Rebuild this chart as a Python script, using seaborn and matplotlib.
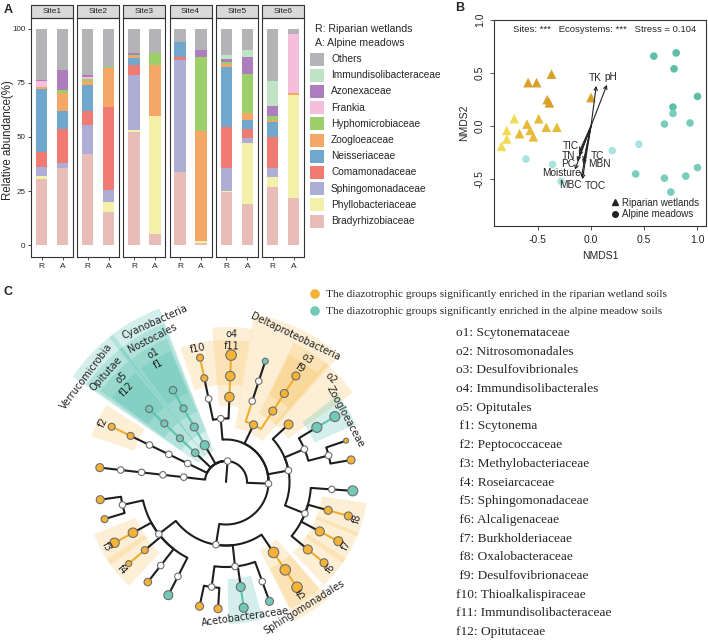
import numpy as np
import pandas as pd
import matplotlib
matplotlib.use("Agg")
import matplotlib.pyplot as plt
from matplotlib.patches import Rectangle, Wedge
from matplotlib.lines import Line2D
import seaborn as sns

sns.set_theme(style="ticks")
plt.rcParams["font.family"] = ["Liberation Sans", "DejaVu Sans"]
plt.rcParams["axes.unicode_minus"] = False

FIG_W, FIG_H = 708, 644

# ---------------- A: relative abundance ----------------
sites = ["Site1", "Site2", "Site3", "Site4", "Site5", "Site6"]
ecosystems = ["R", "A"]
families = ["Bradyrhizobiaceae", "Phyllobacteriaceae", "Sphingomonadaceae", "Comamonadaceae",
            "Neisseriaceae", "Zoogloeaceae", "Hyphomicrobiaceae", "Frankia", "Azonexaceae",
            "Immundisolibacteraceae", "Others"]
family_colors = ["#E8BDB8", "#F3F1A9", "#AEADD6", "#F07B72", "#70A7CD", "#F5A866",
                 "#9CCE6A", "#F5BEDC", "#AD7DBE", "#C0E3C5", "#B4B4B7"]

# samples: Site1 R, Site1 A, Site2 R, Site2 A, ... Site6 A
bradyrhizobiaceae = [30.6, 35.5, 42.2, 15.3, 52.2, 5.1, 33.8, 1.2, 24.4, 18.9, 27.0, 21.6]
phyllobacteriaceae = [1.4, 0.0, 0.0, 4.6, 0.8, 54.4, 0.0, 0.8, 0.5, 28.5, 4.7, 48.0]
sphingomonadaceae = [4.0, 2.4, 13.4, 5.6, 25.8, 0.0, 52.0, 0.0, 10.8, 2.2, 3.8, 0.0]
comamonadaceae = [7.1, 16.0, 6.2, 38.3, 4.4, 0.0, 1.2, 0.0, 18.9, 4.3, 14.7, 0.0]
neisseriaceae = [29.1, 8.0, 12.4, 0.0, 3.5, 0.0, 7.0, 0.0, 27.9, 3.8, 6.5, 0.0]
zoogloeaceae = [0.8, 8.2, 1.5, 18.0, 0.9, 24.0, 0.0, 50.7, 1.4, 3.4, 1.0, 0.7]
hyphomicrobiaceae = [0.3, 1.5, 1.3, 0.5, 0.5, 5.1, 0.0, 34.3, 0.6, 17.9, 2.1, 0.0]
frankia = [2.4, 0.0, 0.7, 0.0, 0.0, 0.0, 0.0, 0.0, 0.0, 0.0, 0.0, 27.4]
azonexaceae = [0.7, 9.5, 0.8, 0.0, 0.9, 0.0, 0.0, 3.1, 1.4, 7.9, 4.3, 0.0]
immundisolibacteraceae = [0.0, 0.0, 0.0, 0.0, 0.0, 0.0, 0.0, 0.0, 2.2, 3.1, 11.6, 0.0]
others = [23.6, 18.9, 21.5, 17.7, 11.0, 11.4, 6.0, 9.9, 11.9, 10.0, 24.3, 2.3]

# ---------------- B: NMDS ----------------
riparian_x = [-0.37, -0.59, -0.51, -0.41, -0.39, 0.00, -0.72, -0.49, -0.60, -0.42, -0.32,
              -0.79, -0.57, -0.67, -0.54, -0.79, -0.84]
riparian_y = [0.49, 0.41, 0.41, 0.25, 0.22, 0.27, 0.07, 0.07, 0.02, -0.01, -0.01,
              -0.04, -0.04, -0.07, -0.10, -0.12, -0.19]
riparian_group = ["dark", "dark", "dark", "dark", "dark", "dark", "light", "mid", "mid", "mid", "mid",
                  "light", "mid", "mid", "mid", "light", "light"]
meadow_x = [0.59, 0.80, 0.78, 1.00, 0.77, 0.77, 0.69, 0.93, 0.45, 0.20, -0.61, -0.36, -0.28,
            0.42, 0.69, 0.89, 1.00, 0.75]
meadow_y = [0.66, 0.69, 0.54, 0.28, 0.18, 0.12, 0.02, 0.03, -0.17, -0.23, -0.31, -0.36, -0.52,
            -0.45, -0.49, -0.47, -0.39, -0.62]
meadow_group = ["dark", "dark", "dark", "dark", "dark", "mid", "mid", "mid", "light", "light", "light",
                "light", "light", "mid", "mid", "mid", "mid", "mid"]
env_names = ["TK", "pH", "TIC", "TN", "PC", "Moisture", "MBC", "TOC", "TC", "MBN"]
env_x = [0.05, 0.15, -0.11, -0.11, -0.13, -0.15, -0.09, -0.08, -0.07, -0.07]
env_y = [0.38, 0.39, -0.24, -0.28, -0.33, -0.41, -0.48, -0.50, -0.33, -0.36]
env_label_x = [0.04, 0.19, -0.19, -0.21, -0.21, -0.28, -0.19, 0.04, 0.06, 0.08]
env_label_y = [0.45, 0.46, -0.19, -0.28, -0.36, -0.44, -0.55, -0.56, -0.28, -0.36]

# ---------------- C: cladogram ----------------
tree_nodes = ["root",
              "p1", "c1", "r1", "fx1", "g1",
              "p2", "c2", "r2", "fam_f2", "g2",
              "verru", "opitutae", "ord_o5", "fam_f12",
              "cyano", "nostoc", "ord_o1", "fam_f1",
              "proteo",
              "gamma", "g_ord1", "fam_f10", "g_gen1", "ord_o4", "fam_f11", "g_gen2",
              "delta", "ord_o3", "fam_f9", "d_gen1", "d_ord2", "d_fam2", "d_gen2",
              "beta", "ord_o2", "b_ord2", "zoogl", "b_gen1", "b_fam2", "b_gen2", "b_gen3",
              "b_ord3", "b_fam3", "b_gen4", "fam_f8", "b_gen5", "fam_f7", "b_gen6", "fam_f6", "b_gen7",
              "alpha", "sphingo", "fam_f5", "a_gen1",
              "a_ord2", "acetob", "a_gen2", "a_fam3", "a_gen3", "a_fam4", "a_gen4", "a_gen5",
              "a_ord3", "a_fam5", "a_gen6", "a_gen7", "fam_f3", "a_gen8", "fam_f4", "a_gen9",
              "a_fam8", "a_gen10", "a_fam9", "a_gen11"]
tree_parents = [None,
                "root", "p1", "c1", "r1", "fx1",
                "root", "p2", "c2", "r2", "fam_f2",
                "root", "verru", "opitutae", "ord_o5",
                "root", "cyano", "nostoc", "ord_o1",
                "root",
                "proteo", "gamma", "g_ord1", "fam_f10", "gamma", "ord_o4", "fam_f11",
                "proteo", "delta", "ord_o3", "fam_f9", "delta", "d_ord2", "d_fam2",
                "proteo", "beta", "beta", "b_ord2", "zoogl", "b_ord2", "b_fam2", "b_fam2",
                "beta", "b_ord3", "b_fam3", "b_ord3", "fam_f8", "b_ord3", "fam_f7", "b_ord3", "fam_f6",
                "proteo", "alpha", "sphingo", "fam_f5",
                "alpha", "a_ord2", "acetob", "a_ord2", "a_fam3", "a_ord2", "a_fam4", "a_fam4",
                "alpha", "a_ord3", "a_fam5", "a_fam5", "a_ord3", "fam_f3", "a_ord3", "fam_f4",
                "a_ord3", "a_fam8", "a_ord3", "a_fam9"]
tree_levels = [1,
               2, 3, 4, 5, 6,
               2, 3, 4, 5, 6,
               2, 3, 4, 5,
               2, 3, 4, 5,
               2,
               3, 4, 5, 6, 4, 5, 6,
               3, 4, 5, 6, 4, 5, 6,
               3, 4, 4, 5, 6, 5, 6, 6,
               4, 5, 6, 5, 6, 5, 6, 5, 6,
               3, 4, 5, 6,
               4, 5, 6, 5, 6, 5, 6, 6,
               4, 5, 6, 6, 5, 6, 5, 6,
               5, 6, 5, 6]
# angle (deg) of terminal nodes, None for inner nodes
tree_leaf_angles = [None,
                    None, None, None, None, 173.5,
                    None, None, None, None, 154.2,
                    None, None, None, 136.5,
                    None, None, None, 120.0,
                    None,
                    None, None, None, 101.8, None, None, 87.7,
                    None, None, None, 56.6, None, None, 72.0,
                    None, 42.6, None, None, 31.0, None, 19.0, 10.0,
                    None, None, -4.0, None, -15.5, None, -27.8, None, -39.5,
                    None, None, None, -56.0,
                    None, None, -82.0, None, -70.0, None, -93.6, -102.0,
                    None, None, -163.0, -172.0, None, -151.4, None, -140.0,
                    None, -128.0, None, -117.0]
# n: not significant, R: riparian wetland enriched, A: alpine meadow enriched
tree_status = ["n",
               "n", "n", "n", "n", "R",
               "n", "n", "n", "R", "R",
               "A", "A", "A", "A",
               "A", "A", "A", "A",
               "n",
               "n", "n", "R", "R", "R", "R", "R",
               "R", "R", "R", "R", "n", "n", "A",
               "n", "R", "n", "A", "A", "n", "R", "R",
               "n", "n", "A", "R", "R", "R", "R", "R", "R",
               "n", "R", "R", "R",
               "n", "A", "A", "n", "A", "n", "R", "R",
               "n", "n", "R", "R", "R", "R", "R", "R",
               "n", "R", "n", "A"]
tree_sizes = [6.5,
              6.5, 6.5, 6.5, 6.5, 8,
              6.5, 6.5, 6.5, 7, 7,
              7.5, 7, 7, 7,
              9, 8, 7, 7.5,
              6.5,
              6.5, 6.5, 7, 7, 9.5, 9.5, 10.5,
              8, 8, 8, 8, 6.5, 6.5, 6,
              6.5, 9, 6.5, 10, 10, 6.5, 5, 8,
              6.5, 6.5, 10, 8, 8, 9, 9, 9, 8,
              6.5, 10.5, 10.5, 10.5,
              6.5, 9, 9, 6.5, 8, 6.5, 8, 8,
              6.5, 6.5, 7, 8, 9.5, 9.5, 7, 6,
              6.5, 7.5, 6.5, 9]
highlight_nodes = ["verru", "opitutae", "ord_o5", "fam_f12", "cyano", "nostoc", "ord_o1", "fam_f1",
                   "fam_f2", "fam_f10", "ord_o4", "fam_f11", "delta", "ord_o3", "fam_f9", "ord_o2",
                   "zoogl", "fam_f8", "fam_f7", "fam_f6", "sphingo", "fam_f5", "acetob",
                   "fam_f3", "fam_f4"]
highlight_labels = ["Verrucomicrobia", "Opitutae", "o5", "f12", "Cyanobacteria", "Nostocales", "o1", "f1",
                    "f2", "f10", "o4", "f11", "Deltaproteobacteria", "o3", "f9", "o2",
                    "Zoogloeaceae", "f8", "f7", "f6", "Sphingomonadales", "f5", "Acetobacteraceae",
                    "f3", "f4"]
# label angle, relative to the clade angle (deg)
highlight_label_shift = [6.5, 1.5, -1.5, 0.5, -6.0, -3.0, -0.5, -0.3,
                         0, 0, 0, 0, 0, 0, 0, 2.0,
                         -2.5, 0, 0, 0, -2.0, 0, 0,
                         0, 0]
legend_texts = ["The diazotrophic groups significantly enriched in the riparian wetland soils",
                "The diazotrophic groups significantly enriched in the alpine meadow soils"]
clade_codes = ["o1", "o2", "o3", "o4", "o5", " f1", " f2", " f3", " f4", " f5", " f6", " f7", " f8",
               " f9", "f10", "f11", "f12"]
clade_names = ["Scytonemataceae", "Nitrosomonadales", "Desulfovibrionales", "Immundisolibacterales",
               "Opitutales", "Scytonema", "Peptococcaceae", "Methylobacteriaceae", "Roseiarcaceae",
               "Sphingomonadaceae", "Alcaligenaceae", "Burkholderiaceae", "Oxalobacteraceae",
               "Desulfovibrionaceae", "Thioalkalispiraceae", "Immundisolibacteraceae", "Opitutaceae"]

ORANGE, TEAL = "#F5B335", "#72C9B8"
status_color = {"n": "white", "R": ORANGE, "A": TEAL}


def fy(y):
    return FIG_H - y


fig = plt.figure(figsize=(FIG_W / 100, FIG_H / 100), dpi=100)
axc = fig.add_axes([0, 0, 1, 1])
axc.set_xlim(0, FIG_W)
axc.set_ylim(0, FIG_H)
axc.axis("off")


def px_axes(x0, y0, w, h):
    return fig.add_axes([x0 / FIG_W, 1 - (y0 + h) / FIG_H, w / FIG_W, h / FIG_H])


# ---- panel A ----
family_values = [bradyrhizobiaceae, phyllobacteriaceae, sphingomonadaceae, comamonadaceae,
                 neisseriaceae, zoogloeaceae, hyphomicrobiaceae, frankia, azonexaceae,
                 immundisolibacteraceae, others]
samples = [(s, e) for s in sites for e in ecosystems]
rows = []
for k, (fam, vals) in enumerate(zip(families, family_values)):
    for (s, e), v in zip(samples, vals):
        rows.append({"site": s, "ecosystem": e, "family": fam, "rank": k, "value": v})
df_a = pd.DataFrame(rows).sort_values(["site", "ecosystem", "rank"])
df_a["top"] = df_a.groupby(["site", "ecosystem"])["value"].cumsum()

for i, site in enumerate(sites):
    ax = px_axes(31 + i * 46.2, 18, 42, 239)
    sub = df_a[df_a.site == site]
    for fam, col in reversed(list(zip(families, family_colors))):
        d = sub[sub.family == fam]
        sns.barplot(data=d, x="ecosystem", y="top", order=ecosystems, color=col, saturation=1,
                    width=0.54, errorbar=None, linewidth=0, ax=ax)
    ax.set_xlim(-0.5, 1.5)
    ax.set_ylim(-5.5, 105)
    ax.set_xlabel("")
    ax.set_ylabel("")
    for sp in ax.spines.values():
        sp.set_visible(True)
        sp.set_color("#333333")
        sp.set_linewidth(0.8)
    ax.tick_params(axis="x", length=2.5, width=0.6, labelsize=6, pad=1.5, color="#333333")
    if i == 0:
        ax.set_yticks([0, 25, 50, 75, 100])
        ax.tick_params(axis="y", length=2.5, width=0.6, labelsize=5.8, pad=1.5, color="#333333")
    else:
        ax.set_yticks([])
    ax.add_patch(Rectangle((0, 1), 1, 13 / 239, transform=ax.transAxes, clip_on=False,
                           facecolor="#D9D9D9", edgecolor="#333333", lw=0.8))
    ax.text(0.5, 1 + 6.5 / 239, site, transform=ax.transAxes, ha="center", va="center", fontsize=6)

axc.text(8.5, fy(140), "Relative abundance(%)", rotation=90, fontsize=8.3, ha="center", va="center")
axc.text(315, fy(29), "R: Riparian wetlands", fontsize=7.6, va="center")
axc.text(315, fy(43), "A: Alpine meadows", fontsize=7.6, va="center")
for j, (fam, col) in enumerate(zip(families[::-1], family_colors[::-1])):
    yc = 59 + j * 16.2
    axc.add_patch(Rectangle((310, fy(yc + 6.5)), 14, 13, facecolor=col, edgecolor="none"))
    axc.text(331, fy(yc), fam, fontsize=7.3, va="center")

# ---- panel B ----
axb = px_axes(494, 20, 212, 206)
df_rip = pd.DataFrame({"NMDS1": riparian_x, "NMDS2": riparian_y, "group": riparian_group})
df_mea = pd.DataFrame({"NMDS1": meadow_x, "NMDS2": meadow_y, "group": meadow_group})
sns.scatterplot(data=df_rip, x="NMDS1", y="NMDS2", hue="group", marker="^", s=48, linewidth=0,
                palette={"dark": "#D9A02A", "mid": "#E6BA3A", "light": "#EFDB55"}, legend=False, ax=axb)
sns.scatterplot(data=df_mea, x="NMDS1", y="NMDS2", hue="group", marker="o", s=30, linewidth=0,
                palette={"dark": "#5CBFA6", "mid": "#7ACDBA", "light": "#A9E3DF"}, legend=False, ax=axb)
for name, tx, ty, lx, ly in zip(env_names, env_x, env_y, env_label_x, env_label_y):
    axb.annotate("", xy=(tx, ty), xytext=(0, 0),
                 arrowprops=dict(arrowstyle="->", lw=0.8, color="#222222", shrinkA=0, shrinkB=0,
                                 mutation_scale=6))
    axb.text(lx, ly, name, fontsize=7.3, ha="center", va="center")
axb.text(-0.73, 0.91, "Sites: ***   Ecosystems: ***   Stress = 0.104", fontsize=6.8, va="center")
axb.set_xlim(-0.91, 1.08)
axb.set_ylim(-0.94, 1.0)
axb.set_xticks([-0.5, 0.0, 0.5, 1.0])
axb.set_yticks([-0.5, 0.0, 0.5, 1.0])
axb.tick_params(axis="both", length=3, width=0.6, labelsize=7.5, color="#333333")
axb.tick_params(axis="y", labelrotation=90)
for lab in axb.get_yticklabels():
    lab.set_va("center")
axb.set_xlabel("NMDS1", fontsize=7.5, labelpad=4)
axb.set_ylabel("NMDS2", fontsize=7.5, labelpad=4)
for sp in axb.spines.values():
    sp.set_visible(True)
    sp.set_color("#333333")
    sp.set_linewidth(0.8)
handles = [Line2D([], [], marker="^", color="#222222", ls="none", markersize=5),
           Line2D([], [], marker="o", color="#222222", ls="none", markersize=4)]
axb.legend(handles, ["Riparian wetlands", "Alpine meadows"], loc="lower right", frameon=False,
           fontsize=7, handletextpad=0.2, labelspacing=0.15, borderaxespad=0.3, handlelength=1)

# ---- panel C ----
CX, CY = 226, fy(482)
level_radius = [0, 21, 42.5, 63.5, 85, 106, 127]
hl_outer = {2: 186, 3: 170, 4: 155, 5: 142}
hl_label_r = {2: 175, 3: 161, 4: 148, 5: 136}
hl_half = {2: 9, 3: 8.5, 4: 7.5, 5: 7}

parent_of = dict(zip(tree_nodes, tree_parents))
level_of = dict(zip(tree_nodes, tree_levels))
status_of = dict(zip(tree_nodes, tree_status))
children = {n: [] for n in tree_nodes}
for n, p in zip(tree_nodes, tree_parents):
    if p is not None:
        children[p].append(n)
angle_of = {}
span_of = {}


def place(n):
    leaf_a = tree_leaf_angles[tree_nodes.index(n)]
    if leaf_a is not None:
        angle_of[n] = leaf_a
        span_of[n] = (leaf_a, leaf_a)
        return
    for c in children[n]:
        place(c)
    ca = [angle_of[c] for c in children[n]]
    angle_of[n] = (max(ca) + min(ca)) / 2
    span_of[n] = (min(span_of[c][0] for c in children[n]), max(span_of[c][1] for c in children[n]))


place("root")


def polar(r, a):
    t = np.deg2rad(a)
    return CX + r * np.cos(t), CY + r * np.sin(t)


def tangent_rot(a):
    return a - 90 if a > 0 else a + 90


# highlighted clades
hl = sorted(zip(highlight_nodes, highlight_labels, highlight_label_shift), key=lambda t: level_of[t[0]])
for n, lab, shift in hl:
    lv = level_of[n]
    lo, hi = span_of[n]
    r_in = level_radius[lv] - 9
    col = ORANGE if status_of[n] == "R" else "#3DB8A5"
    alpha = 0.2 if status_of[n] == "R" else 0.22
    axc.add_patch(Wedge((CX, CY), hl_outer[lv], lo - hl_half[lv], hi + hl_half[lv],
                        width=hl_outer[lv] - r_in, facecolor=col, alpha=alpha, edgecolor="none", zorder=0))
    a = angle_of[n] + shift
    lx, ly = polar(hl_label_r[lv], a)
    axc.text(lx, ly, lab, rotation=tangent_rot(a), rotation_mode="anchor", ha="center", va="center",
             fontsize=7, family="DejaVu Sans", color="#222222", zorder=4)

# branches
line_col = {"n": "#1E1E1E", "R": "#F0AE30", "A": "#5FC2B0"}
for n in tree_nodes:
    p = parent_of[n]
    if p is None:
        xs, ys = polar(np.array([0, level_radius[1]]), angle_of[n])
        axc.plot(xs, ys, color="#1E1E1E", lw=1.5, zorder=1, solid_capstyle="round")
        continue
    rp, rc = level_radius[level_of[p]], level_radius[level_of[n]]
    arc_a = np.linspace(angle_of[p], angle_of[n], 60)
    xs, ys = polar(np.full_like(arc_a, rp), arc_a)
    x2, y2 = polar(np.array([rp, rc]), angle_of[n])
    axc.plot(np.r_[xs, x2], np.r_[ys, y2], color=line_col[status_of[p]], lw=1.5, zorder=1,
             solid_capstyle="round", solid_joinstyle="round")

# nodes
nx, ny = polar(np.array([level_radius[level_of[n]] for n in tree_nodes]),
               np.array([angle_of[n] for n in tree_nodes]))
axc.scatter(nx, ny, s=(np.array(tree_sizes) * 0.72) ** 2,
            c=[status_color[s] for s in tree_status], edgecolors="#6E6E6E", linewidths=0.8, zorder=3)

# legend and code list
for k, (txt, col) in enumerate(zip(legend_texts, [ORANGE, TEAL])):
    yc = fy(294 + k * 17)
    axc.scatter([315], [yc], s=48, color=col, edgecolors="none", zorder=3)
    axc.text(326, yc, txt, fontsize=8.2, family="Liberation Serif", va="center")
for k, (code, name) in enumerate(zip(clade_codes, clade_names)):
    axc.text(456, fy(333 + k * 18.7), f"{code}: {name}", fontsize=9.6, family="Liberation Serif",
             va="center")

for lab, x, y in [("A", 4, 10), ("B", 455, 8), ("C", 4, 292)]:
    axc.text(x, fy(y), lab, fontsize=9, fontweight="bold", va="center")

fig.savefig("out.png", dpi=100)
